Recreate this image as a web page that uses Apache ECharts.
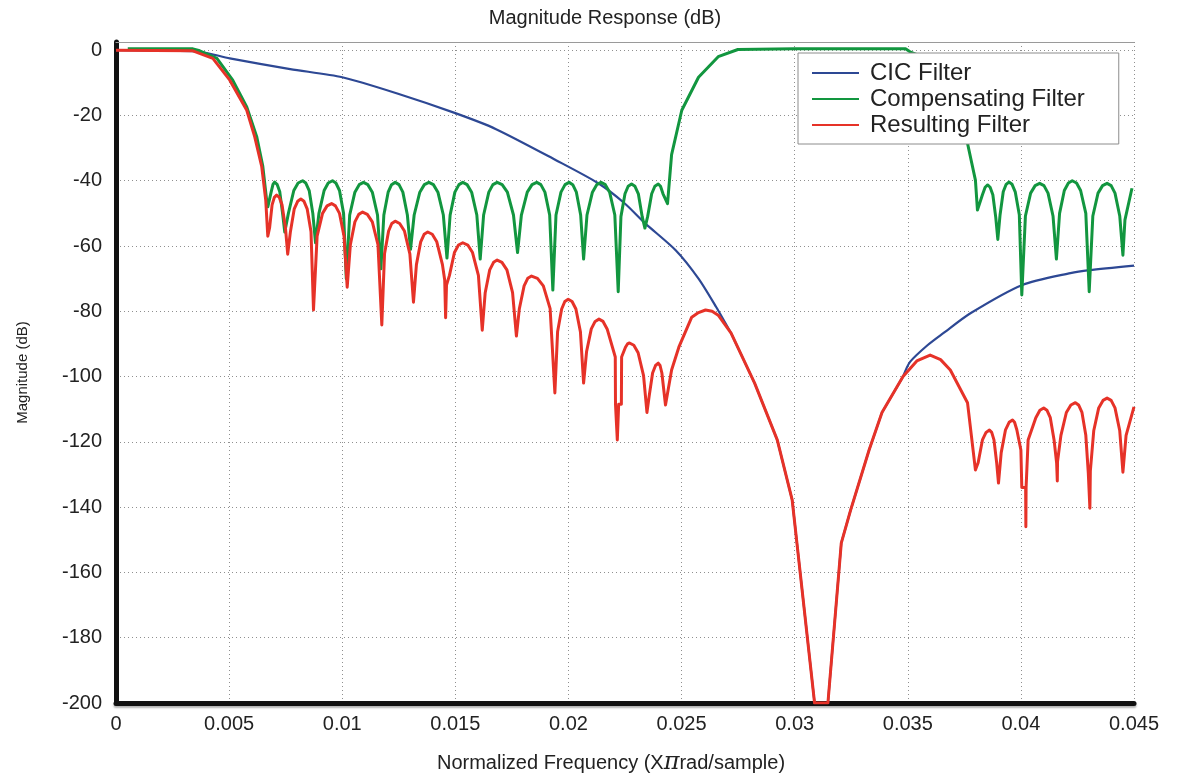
<!DOCTYPE html>
<html>
<head>
<meta charset="utf-8">
<script src="https://cdn.jsdelivr.net/npm/echarts@6/dist/echarts.min.js"></script>
<style>
html,body{margin:0;padding:0;background:#fff;}
#chart{width:1177px;height:776px;}
</style>
</head>
<body>
<div id="chart"></div>
<script>
// ---- data (x: normalized frequency, y: magnitude in dB) ----
const seriesNames = ['CIC Filter', 'Compensating Filter', 'Resulting Filter'];
const xTicks = { min: 0, max: 0.045, step: 0.005 };
const yTicks = { min: -200, max: 2.5, step: 20 };

const cicFilter = [
  [0,0],[0.00194,-0.15],[0.0037,-0.5],[0.00503,-2.5],[0.0077,-5.8],[0.01,-8.3],[0.0124,-13.2],
  [0.015,-19.3],[0.0168,-24.2],[0.01945,-33.7],[0.0213,-40.7],[0.02248,-46.9],[0.02338,-53],
  [0.02474,-61.3],[0.02575,-70],[0.02653,-78.7],[0.02719,-86.7],[0.02823,-102],[0.02923,-119.4],
  [0.02989,-137.8],[0.0301,-151],[0.03088,-200],[0.03147,-200],[0.03206,-151],[0.03247,-141],
  [0.03329,-122.5],[0.03386,-111],[0.03479,-100],[0.0351,-95.5],[0.03587,-90.4],[0.03657,-86.7],
  [0.03777,-80.6],[0.04004,-72],[0.04219,-68.3],[0.04302,-67.4],[0.045,-66]
];
// stretch of the CIC curve that lies under the resulting-filter curve
const cicSharedRange = [0.02719, 0.03479];

const compensatingFilter = [
  [0.00052,0.4],[0.0034,0.4],[0.0037,-0.2],[0.00446,-2.5],[0.00516,-9.2],[0.00578,-17.4],
  [0.00622,-26.5],[0.00649,-35.6],[0.00666,-46],[0.00671,-48],
  [0.00686,-43.4],[0.00694,-41.1],[0.00701,-40.4],[0.00712,-41.1],[0.00724,-43.4],[0.00737,-50.4],[0.00746,-55.7],
  [0.00762,-50],[0.00786,-43],[0.00805,-40.7],[0.00825,-40],[0.00839,-40.7],[0.00854,-43],[0.0087,-50],[0.00882,-59],
  [0.00897,-50],[0.0092,-43],[0.00938,-40.7],[0.00957,-40],[0.00972,-40.7],[0.00988,-43],[0.01006,-50],[0.01018,-70],
  [0.01033,-50.5],[0.01056,-43.5],[0.01075,-41.2],[0.01094,-40.5],[0.01113,-41.2],[0.01133,-43.5],[0.01156,-50.5],[0.01171,-67],
  [0.01184,-50.5],[0.01203,-43.5],[0.01218,-41.2],[0.01234,-40.5],[0.01251,-41.2],[0.01268,-43.5],[0.01288,-50.5],[0.01302,-61],
  [0.01318,-50.5],[0.01343,-43.5],[0.01363,-41.2],[0.01383,-40.5],[0.01403,-41.2],[0.01423,-43.5],[0.01447,-50.5],[0.01463,-63.7],
  [0.01477,-50.5],[0.01498,-43.5],[0.01516,-41.2],[0.01533,-40.5],[0.01552,-41.2],[0.01572,-43.5],[0.01595,-50.5],[0.0161,-64],
  [0.01625,-50.5],[0.01648,-43.5],[0.01666,-41.2],[0.01685,-40.5],[0.01707,-41.2],[0.0173,-43.5],[0.01757,-50.5],[0.01775,-62],
  [0.01792,-50.5],[0.01818,-43.5],[0.01839,-41.2],[0.0186,-40.5],[0.01878,-41.2],[0.01896,-43.5],[0.01917,-50.5],[0.01931,-73.5],
  [0.01945,-50.5],[0.01967,-43.5],[0.01985,-41.2],[0.02003,-40.5],[0.02019,-41.2],[0.02035,-43.5],[0.02054,-50.5],[0.02067,-64],
  [0.02082,-50.5],[0.02106,-43.5],[0.02125,-41.2],[0.02144,-40.5],[0.02163,-41.2],[0.02182,-43.5],[0.02205,-50.5],[0.0222,-74],
  [0.02232,-51],[0.0225,-44],[0.02264,-41.7],[0.02279,-41],[0.02294,-41.7],[0.02309,-44],[0.02326,-51],[0.02338,-54.5],
  [0.0235,-51],[0.02368,-44],[0.02382,-41.7],[0.02397,-41],[0.02407,-41.7],[0.02418,-44],[0.02438,-47],
  [0.02456,-32],[0.02501,-18.4],[0.02575,-8.3],[0.02662,-2],[0.02749,0.2],[0.03,0.4],[0.0349,0.4],
  [0.0351,-0.5],[0.03599,-3],[0.03688,-10],[0.03733,-18],[0.03764,-28.5],[0.03799,-39.8],[0.03808,-49],
  [0.0383,-44.3],[0.03842,-42],[0.03853,-41.3],[0.03864,-42],[0.03876,-44.3],[0.03889,-51.3],[0.03898,-58],
  [0.03908,-50.4],[0.03922,-43.4],[0.03935,-41.1],[0.03947,-40.4],[0.03961,-41.1],[0.03975,-43.4],[0.03993,-50.4],[0.04004,-75],
  [0.0402,-50.8],[0.04043,-43.8],[0.04063,-41.5],[0.04083,-40.8],[0.04102,-41.5],[0.0412,-43.8],[0.04142,-50.8],[0.04157,-64],
  [0.04171,-50],[0.04192,-43],[0.0421,-40.7],[0.04227,-40],[0.04246,-40.7],[0.04264,-43],[0.04287,-50],[0.04302,-74],
  [0.04318,-50.8],[0.04341,-43.8],[0.04361,-41.5],[0.04381,-40.8],[0.04399,-41.5],[0.04416,-43.8],[0.04437,-50.8],[0.04451,-62.8],
  [0.0446,-52],[0.04491,-42.3]
];

const resultingFilter = [
  [0,0],[0.0034,-0.2],[0.00428,-2.5],[0.00503,-9.2],[0.00578,-18.4],[0.00613,-26.5],[0.00644,-35.6],
  [0.00662,-46],[0.00671,-57],
  [0.00679,-54.4],[0.0069,-47.4],[0.007,-45.1],[0.0071,-44.4],[0.00722,-45.1],[0.00734,-47.4],[0.00749,-54.4],[0.00759,-62.5],
  [0.00771,-55.6],[0.00788,-48.6],[0.00803,-46.3],[0.00817,-45.6],[0.00831,-46.3],[0.00845,-48.6],[0.00862,-55.6],[0.00873,-79.6],
  [0.00889,-57],[0.00913,-50],[0.00933,-47.7],[0.00953,-47],[0.0097,-47.7],[0.00988,-50],[0.01008,-57],[0.01022,-72.6],
  [0.01036,-59.6],[0.01056,-52.6],[0.01073,-50.3],[0.0109,-49.6],[0.01111,-50.3],[0.01133,-52.6],[0.01158,-59.6],[0.01175,-84.2],
  [0.01187,-62.4],[0.01205,-55.4],[0.01219,-53.1],[0.01234,-52.4],[0.01254,-53.1],[0.01275,-55.4],[0.01299,-62.4],[0.01315,-77.2],
  [0.01328,-65.7],[0.01347,-58.7],[0.01362,-56.4],[0.01378,-55.7],[0.01398,-56.4],[0.01418,-58.7],[0.01443,-65.7],[0.01453,-70.4],
  [0.01457,-82],[0.01461,-72],
  [0.01474,-69],[0.01496,-62],[0.01514,-59.7],[0.01533,-59],[0.01555,-59.7],[0.01576,-62],[0.01602,-69],[0.01619,-85.8],
  [0.01632,-74.3],[0.01652,-67.3],[0.01669,-65],[0.01685,-64.3],[0.01706,-65],[0.01728,-67.3],[0.01753,-74.3],[0.0177,-87.6],
  [0.01783,-79.2],[0.01804,-72.2],[0.0182,-69.9],[0.01837,-69.2],[0.01863,-69.9],[0.01889,-72.2],[0.01919,-79.2],[0.0194,-105],
  [0.01952,-86.3],[0.0197,-79.3],[0.01984,-77],[0.01999,-76.3],[0.02016,-77],[0.02033,-79.3],[0.02053,-86.3],[0.02067,-102],
  [0.0208,-92.4],[0.02101,-85.4],[0.02118,-83.1],[0.02135,-82.4],[0.02153,-83.1],[0.02171,-85.4],[0.02207,-94],[0.02208,-108.5],
  [0.02216,-119.4],[0.02222,-108.5],[0.02234,-108.5],[0.02235,-94],
  [0.02252,-91],[0.02261,-90],[0.0227,-89.7],[0.02289,-90.4],[0.02308,-92.7],[0.02332,-99.7],[0.02347,-111],
  [0.02357,-105.9],[0.02372,-98.9],[0.02385,-96.6],[0.02397,-95.9],[0.02405,-96.6],[0.02413,-98.9],[0.02429,-108.7],
  [0.02456,-98],[0.02488,-91],[0.02545,-81.8],[0.02575,-80.4],[0.02606,-79.6],[0.02635,-80],[0.02662,-81.2],[0.02719,-86.7],
  [0.02823,-102],[0.02923,-119.4],[0.02989,-137.8],[0.0301,-151],[0.03088,-200],[0.03147,-200],
  [0.03206,-151],[0.03247,-141],[0.03329,-122.5],[0.03386,-111],[0.03479,-100],[0.0354,-95.2],
  [0.03599,-93.4],[0.03645,-94.8],[0.03688,-98],[0.03764,-108],[0.03799,-128.6],
  [0.03811,-126.4],[0.0383,-119.4],[0.03846,-117.1],[0.03861,-116.4],[0.03871,-117.1],[0.03881,-119.4],[0.03893,-126.4],[0.03901,-132.6],
  [0.03913,-123.3],[0.03932,-116.3],[0.03948,-114],[0.03963,-113.3],[0.03972,-114],[0.03982,-116.3],[0.04,-122.5],[0.04004,-134],
  [0.04021,-134],[0.04022,-146],[0.04023,-134],[0.04031,-134],[0.04032,-119.4],
  [0.04066,-112.6],[0.04084,-110.3],[0.04101,-109.6],[0.04115,-110.3],[0.0413,-112.6],[0.04147,-119.6],[0.04158,-126.5],[0.04161,-132],
  [0.04162,-126],
  [0.04177,-118],[0.04201,-111],[0.04221,-108.7],[0.04241,-108],[0.04255,-108.7],[0.0427,-111],[0.04287,-118],[0.04298,-129.6],
  [0.04305,-140.3],[0.04307,-129],
  [0.04322,-116.6],[0.04344,-109.6],[0.04363,-107.3],[0.04381,-106.6],[0.04399,-107.3],[0.04416,-109.6],[0.04437,-116.6],[0.04451,-129.3],
  [0.04465,-118],[0.045,-109.3]
];

const seriesColors = ['#2d4894', '#12963f', '#e63228'];

// ---- chart ----
const FONT = '"Liberation Sans", Arial, Helvetica, sans-serif';
const chart = echarts.init(document.getElementById('chart'), null, { renderer: 'canvas' });

function lineSeries(name, data, color, width, smooth, z) {
  return {
    name: name, type: 'line', data: data,
    showSymbol: false, symbol: 'none', clip: true, smooth: smooth,
    color: color,
    lineStyle: { color: color, width: width, join: 'round' },
    z: z
  };
}

const cicLeft = cicFilter.filter(p => p[0] <= cicSharedRange[0]);
const cicMid = cicFilter.filter(p => p[0] >= cicSharedRange[0] && p[0] <= cicSharedRange[1]);
const cicRight = cicFilter.filter(p => p[0] >= cicSharedRange[1]);

const option = {
  animation: false,
  backgroundColor: '#ffffff',
  graphic: [{
    type: 'text',
    x: 605, y: 18,
    style: {
      text: 'Magnitude Response (dB)',
      textAlign: 'center', textVerticalAlign: 'middle',
      fontSize: 20, fontFamily: FONT, fill: '#222'
    }
  }],
  legend: {
    orient: 'vertical',
    left: 798, top: 53,
    padding: [7, 34, 6, 14],
    itemGap: 0,
    itemWidth: 47, itemHeight: 2,
    icon: 'rect',
    backgroundColor: '#ffffff',
    borderColor: '#8c8c8c', borderWidth: 1,
    textStyle: { fontSize: 24, fontFamily: FONT, color: '#222', lineHeight: 26, padding: [0, 0, 0, 6] },
    data: seriesNames
  },
  grid: { left: 116, right: 43, top: 42, bottom: 73, containLabel: false, outerBoundsMode: 'none' },
  xAxis: [{
    type: 'value',
    min: xTicks.min, max: xTicks.max, interval: xTicks.step,
    axisLine: { show: true, onZero: false,
      lineStyle: { color: '#111', width: 5, shadowColor: 'rgba(0,0,0,0.3)', shadowOffsetY: 2, shadowBlur: 2 } },
    axisTick: { show: false },
    axisLabel: { fontSize: 20, fontFamily: FONT, color: '#222', margin: 11 },
    splitLine: { show: true, lineStyle: { type: [1, 3], color: '#8f8f8f', width: 1 } },
    name: 'Normalized Frequency (X{p|π}rad/sample)',
    nameLocation: 'middle',
    nameGap: 48,
    nameTextStyle: {
      fontSize: 20, fontFamily: FONT, color: '#222', padding: [0, 28, 0, 0],
      rich: { p: { fontSize: 24, fontFamily: '"DejaVu Serif", serif', fontStyle: 'italic', color: '#222' } }
    }
  }, {
    type: 'value',
    position: 'top',
    min: xTicks.min, max: xTicks.max,
    axisLine: { show: true, onZero: false, lineStyle: { color: '#9a9a9a', width: 1 } },
    axisTick: { show: false },
    axisLabel: { show: false },
    splitLine: { show: false }
  }],
  yAxis: {
    type: 'value',
    min: yTicks.min, max: yTicks.max, interval: yTicks.step,
    axisLine: { show: true, onZero: false, lineStyle: { color: '#111', width: 5 } },
    axisTick: { show: false },
    axisLabel: { fontSize: 20, fontFamily: FONT, color: '#222', margin: 14, showMaxLabel: false },
    splitLine: { show: true, lineStyle: { type: [1, 3], color: '#8f8f8f', width: 1 } },
    name: 'Magnitude (dB)',
    nameLocation: 'middle',
    nameRotate: 90,
    nameGap: 86,
    nameTextStyle: { fontSize: 15, fontFamily: FONT, color: '#222' }
  },
  series: [
    lineSeries(seriesNames[0], cicLeft, seriesColors[0], 2.2, 0.25, 2),
    lineSeries(seriesNames[0], cicMid, seriesColors[0], 2.2, false, 2),
    lineSeries(seriesNames[0], cicRight, seriesColors[0], 2.2, 0.25, 2),
    lineSeries(seriesNames[1], compensatingFilter, seriesColors[1], 3, false, 3),
    lineSeries(seriesNames[2], resultingFilter, seriesColors[2], 3, false, 4)
  ]
};

chart.setOption(option);
</script>
</body>
</html>
